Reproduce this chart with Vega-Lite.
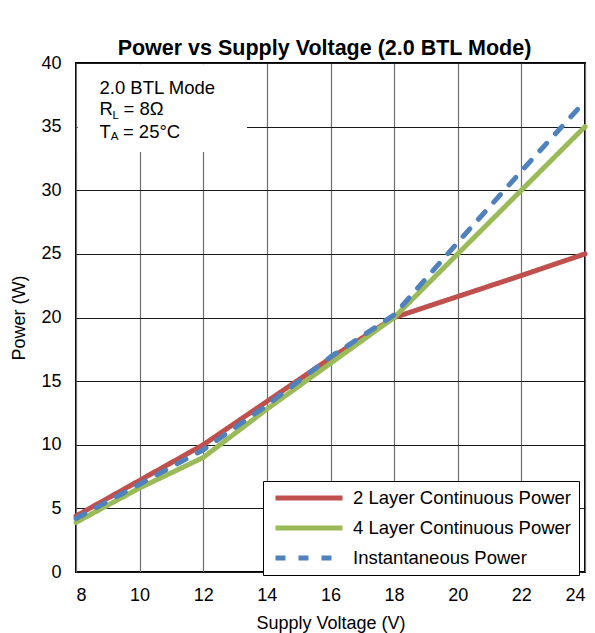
{
  "$schema": "https://vega.github.io/schema/vega-lite/v6.json",
  "width": 509,
  "height": 509,
  "autosize": {"type": "none"},
  "padding": {"left": 76, "top": 63, "right": 10, "bottom": 61},
  "background": "white",
  "title": {
    "text": "Power vs Supply Voltage (2.0 BTL Mode)",
    "font": "Liberation Sans",
    "fontSize": 21.5,
    "fontWeight": "bold",
    "color": "black",
    "anchor": "middle",
    "frame": "group",
    "offset": -5,
    "dx": -6
  },
  "config": {
    "view": {"stroke": "black", "strokeWidth": 2},
    "font": "Liberation Sans"
  },
  "datasets": {
    "curves": [
      {"v": 8, "p": 4.4, "series": "2 Layer Continuous Power"},
      {"v": 10, "p": 7.2, "series": "2 Layer Continuous Power"},
      {"v": 12, "p": 10.0, "series": "2 Layer Continuous Power"},
      {"v": 14, "p": 13.4, "series": "2 Layer Continuous Power"},
      {"v": 16, "p": 16.8, "series": "2 Layer Continuous Power"},
      {"v": 18, "p": 20.0, "series": "2 Layer Continuous Power"},
      {"v": 20, "p": 21.65, "series": "2 Layer Continuous Power"},
      {"v": 22, "p": 23.3, "series": "2 Layer Continuous Power"},
      {"v": 24, "p": 25.0, "series": "2 Layer Continuous Power"},
      {"v": 8, "p": 3.9, "series": "4 Layer Continuous Power"},
      {"v": 10, "p": 6.6, "series": "4 Layer Continuous Power"},
      {"v": 12, "p": 9.0, "series": "4 Layer Continuous Power"},
      {"v": 14, "p": 12.8, "series": "4 Layer Continuous Power"},
      {"v": 16, "p": 16.4, "series": "4 Layer Continuous Power"},
      {"v": 18, "p": 20.0, "series": "4 Layer Continuous Power"},
      {"v": 20, "p": 25.0, "series": "4 Layer Continuous Power"},
      {"v": 22, "p": 30.0, "series": "4 Layer Continuous Power"},
      {"v": 24, "p": 35.0, "series": "4 Layer Continuous Power"},
      {"v": 8, "p": 4.2, "series": "Instantaneous Power"},
      {"v": 10, "p": 6.9, "series": "Instantaneous Power"},
      {"v": 12, "p": 9.6, "series": "Instantaneous Power"},
      {"v": 14, "p": 13.1, "series": "Instantaneous Power"},
      {"v": 16, "p": 16.9, "series": "Instantaneous Power"},
      {"v": 18, "p": 20.2, "series": "Instantaneous Power"},
      {"v": 20, "p": 25.9, "series": "Instantaneous Power"},
      {"v": 22, "p": 31.5, "series": "Instantaneous Power"},
      {"v": 24, "p": 37.0, "series": "Instantaneous Power"}
    ],
    "box": [{"xa": 8.05, "xb": 13.375, "ya": 33.0, "yb": 39.9}],
    "notes": [
      {"t": "2.0 BTL Mode", "x": 8.739, "y": 38.01},
      {"t": "R", "x": 8.739, "y": 36.35},
      {"t": "= 8Ω", "x": 9.493, "y": 36.35},
      {"t": "T", "x": 8.739, "y": 34.58},
      {"t": "= 25°C", "x": 9.475, "y": 34.58}
    ],
    "subs": [
      {"t": "L", "x": 9.147, "y": 35.83},
      {"t": "A", "x": 9.094, "y": 34.16}
    ]
  },
  "layer": [
    {
      "data": {"name": "curves"},
      "mark": {"type": "line", "strokeWidth": 5, "strokeCap": "round", "strokeJoin": "round"},
      "encoding": {
        "x": {
          "field": "v", "type": "quantitative",
          "scale": {"domain": [8, 24], "nice": false, "zero": false},
          "axis": {
            "title": "Supply Voltage (V)",
            "values": [8, 10, 12, 14, 16, 18, 20, 22, 24],
            "domain": false, "ticks": false,
            "labelFont": "Liberation Sans", "labelFontSize": 18, "labelColor": "black",
            "labelPadding": 14,
            "titleFont": "Liberation Sans", "titleFontSize": 18, "titleFontWeight": "normal", "titleColor": "black",
            "titlePadding": 10,
            "gridColor": "#6e6e6e", "gridOpacity": 1, "gridWidth": 1.2
          }
        },
        "y": {
          "field": "p", "type": "quantitative",
          "scale": {"domain": [0, 40], "nice": false},
          "axis": {
            "title": "Power (W)",
            "values": [0, 5, 10, 15, 20, 25, 30, 35, 40],
            "domain": false, "ticks": false,
            "labelFont": "Liberation Sans", "labelFontSize": 18, "labelColor": "black",
            "labelPadding": 15,
            "titleFont": "Liberation Sans", "titleFontSize": 18, "titleFontWeight": "normal", "titleColor": "black",
            "titlePadding": 12,
            "gridColor": "#1a1a1a", "gridOpacity": 1, "gridWidth": 1.2
          }
        },
        "color": {
          "field": "series", "type": "nominal",
          "scale": {
            "domain": ["2 Layer Continuous Power", "4 Layer Continuous Power", "Instantaneous Power"],
            "range": ["#C0504D", "#9BBB59", "#4F81BD"]
          },
          "legend": {
            "title": null,
            "orient": "none",
            "legendX": 187,
            "legendY": 418,
            "direction": "vertical",
            "symbolType": "M-4.47,0H4.47",
            "symbolSize": 225,
            "symbolStrokeWidth": 5,
            "symbolOffset": 29,
            "labelFont": "Liberation Sans",
            "labelFontSize": 18.5,
            "labelColor": "black",
            "labelOffset": 34,
            "labelLimit": 400,
            "rowPadding": 10,
            "padding": 7,
            "strokeColor": "black",
            "fillColor": "white"
          }
        },
        "strokeDash": {
          "field": "series", "type": "nominal",
          "scale": {
            "domain": ["2 Layer Continuous Power", "4 Layer Continuous Power", "Instantaneous Power"],
            "range": [[1, 0], [1, 0], [10, 13]]
          }
        }
      }
    },
    {
      "data": {"name": "box"},
      "mark": {"type": "rect", "fill": "white"},
      "encoding": {
        "x": {"field": "xa", "type": "quantitative"},
        "x2": {"field": "xb"},
        "y": {"field": "ya", "type": "quantitative"},
        "y2": {"field": "yb"}
      }
    },
    {
      "data": {"name": "notes"},
      "mark": {"type": "text", "align": "left", "baseline": "middle", "font": "Liberation Sans", "fontSize": 18.5, "color": "black"},
      "encoding": {
        "x": {"field": "x", "type": "quantitative"},
        "y": {"field": "y", "type": "quantitative"},
        "text": {"field": "t"}
      }
    },
    {
      "data": {"name": "subs"},
      "mark": {"type": "text", "align": "left", "baseline": "middle", "font": "Liberation Sans", "fontSize": 11.5, "color": "black"},
      "encoding": {
        "x": {"field": "x", "type": "quantitative"},
        "y": {"field": "y", "type": "quantitative"},
        "text": {"field": "t"}
      }
    }
  ]
}
